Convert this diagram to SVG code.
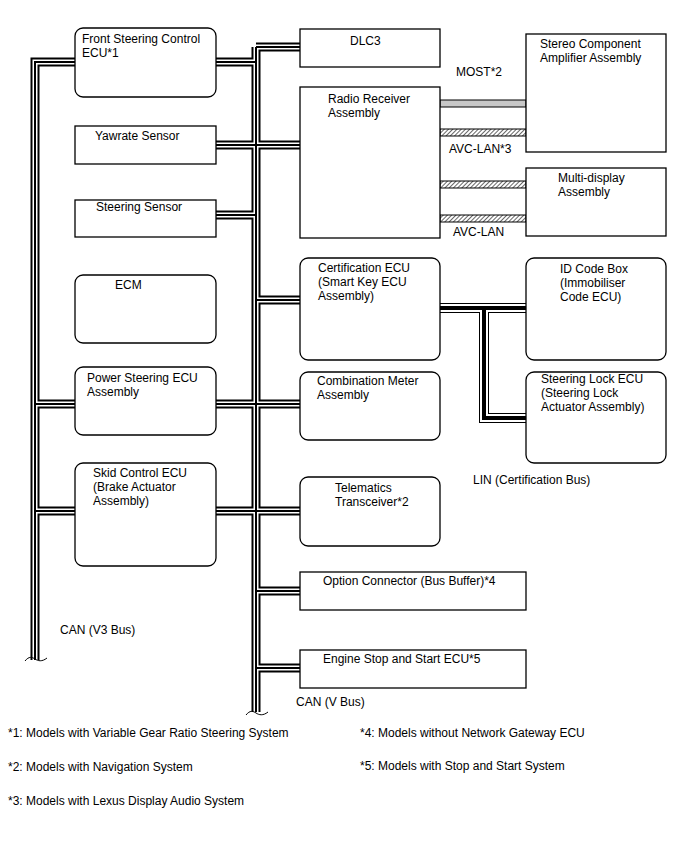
<svg xmlns="http://www.w3.org/2000/svg" width="688" height="852" viewBox="0 0 688 852">
<style>
text{font-family:"Liberation Sans",Arial,sans-serif;font-size:12px;fill:#000}
.box{fill:#fff;stroke:#000;stroke-width:1.3}
.c1{fill:none;stroke:#000;stroke-width:9}
.c2{fill:none;stroke:#fff;stroke-width:5}
.c3{fill:none;stroke:#000;stroke-width:2}
.l1{fill:none;stroke:#000;stroke-width:10}
.l2{fill:none;stroke:#fff;stroke-width:8}
.l3{fill:none;stroke:#000;stroke-width:4}
.most{fill:#c8c8c8;stroke:#000;stroke-width:1}
.avc{fill:url(#hatch);stroke:#000;stroke-width:1}
.brk{fill:none;stroke:#000;stroke-width:1}
</style>
<defs>
<pattern id="hatch" patternUnits="userSpaceOnUse" width="3" height="3" patternTransform="rotate(45)">
<rect width="3" height="3" fill="#fff"/>
<line x1="0" y1="0" x2="0" y2="3" stroke="#000" stroke-width="1.2"/>
</pattern>
<path id="canpaths" d="M35,660 V62 H75 M216,62 H256 M256,47 H300 M256,47 V712 M216,145 H300 M216,215 H256 M75,404 H35 M216,404 H300 M75,511 H35 M216,511 H300 M256,300 H300 M256,591 H300 M256,668 H300"/>
<path id="linpaths" d="M440,308 H526 M484,308 V418 H526"/>
</defs>
<g id="connectors">
<use href="#canpaths" class="c1"/>
<use href="#canpaths" class="c2"/>
<use href="#canpaths" class="c3"/>
<use href="#linpaths" class="l1"/>
<use href="#linpaths" class="l2"/>
<use href="#linpaths" class="l3"/>
<rect class="most" x="440" y="100" width="86" height="7"/>
<rect class="avc" x="440" y="129" width="86" height="7"/>
<rect class="avc" x="440" y="181" width="86" height="7"/>
<rect class="avc" x="440" y="215" width="86" height="7"/>
<path class="brk" d="M25,661 C29,656 32,657 35,659 C38,661 42,662 47,658"/>
<path class="brk" d="M246,715 C250,710 253,711 256,713 C259,715 263,716 268,712"/>
</g>
<g id="front-steering"><rect class="box" x="75" y="28" width="141" height="69" rx="8"/><text x="82" y="43">Front Steering Control</text><text x="82" y="57">ECU*1</text></g>
<g id="yawrate"><rect class="box" x="75" y="126" width="141" height="38"/><text x="95" y="140">Yawrate Sensor</text></g>
<g id="steering-sensor"><rect class="box" x="75" y="200" width="141" height="37"/><text x="96" y="211">Steering Sensor</text></g>
<g id="ecm"><rect class="box" x="75" y="275" width="141" height="68" rx="8"/><text x="115" y="289">ECM</text></g>
<g id="power-steering"><rect class="box" x="75" y="367" width="141" height="68" rx="8"/><text x="87" y="382">Power Steering ECU</text><text x="87" y="396">Assembly</text></g>
<g id="skid-control"><rect class="box" x="75" y="463" width="141" height="103" rx="8"/><text x="93" y="477">Skid Control ECU</text><text x="93" y="491">(Brake Actuator</text><text x="93" y="505">Assembly)</text></g>
<g id="dlc3"><rect class="box" x="300" y="29" width="140" height="38"/><text x="350" y="45">DLC3</text></g>
<g id="radio"><rect class="box" x="300" y="87" width="140" height="151"/><text x="328" y="103">Radio Receiver</text><text x="328" y="117">Assembly</text></g>
<g id="certification"><rect class="box" x="300" y="258" width="140" height="102" rx="8"/><text x="318" y="272">Certification ECU</text><text x="318" y="286">(Smart Key ECU</text><text x="318" y="300">Assembly)</text></g>
<g id="combination"><rect class="box" x="300" y="372" width="140" height="68" rx="8"/><text x="317" y="385">Combination Meter</text><text x="317" y="399">Assembly</text></g>
<g id="telematics"><rect class="box" x="300" y="477" width="140" height="69" rx="8"/><text x="335" y="492">Telematics</text><text x="335" y="506">Transceiver*2</text></g>
<g id="option-connector"><rect class="box" x="300" y="572" width="226" height="38"/><text x="323" y="585">Option Connector (Bus Buffer)*4</text></g>
<g id="engine-stop"><rect class="box" x="300" y="650" width="226" height="38"/><text x="323" y="663">Engine Stop and Start ECU*5</text></g>
<g id="stereo"><rect class="box" x="526" y="34" width="140" height="118"/><text x="540" y="48">Stereo Component</text><text x="540" y="62">Amplifier Assembly</text></g>
<g id="multi-display"><rect class="box" x="526" y="168" width="140" height="68"/><text x="558" y="182">Multi-display</text><text x="558" y="196">Assembly</text></g>
<g id="id-code-box"><rect class="box" x="526" y="258" width="140" height="102" rx="8"/><text x="560" y="273">ID Code Box</text><text x="560" y="287">(Immobiliser</text><text x="560" y="301">Code ECU)</text></g>
<g id="steering-lock"><rect class="box" x="526" y="372" width="140" height="91" rx="8"/><text x="541" y="383">Steering Lock ECU</text><text x="541" y="397">(Steering Lock</text><text x="541" y="411">Actuator Assembly)</text></g>
<g id="labels">
<text x="456" y="76">MOST*2</text>
<text x="449" y="153">AVC-LAN*3</text>
<text x="453" y="236">AVC-LAN</text>
<text x="473" y="484">LIN (Certification Bus)</text>
<text x="60" y="634">CAN (V3 Bus)</text>
<text x="296" y="706">CAN (V Bus)</text>
<text x="8" y="737">*1: Models with Variable Gear Ratio Steering System</text>
<text x="8" y="771">*2: Models with Navigation System</text>
<text x="8" y="805">*3: Models with Lexus Display Audio System</text>
<text x="360" y="737">*4: Models without Network Gateway ECU</text>
<text x="360" y="770">*5: Models with Stop and Start System</text>
</g>
</svg>
